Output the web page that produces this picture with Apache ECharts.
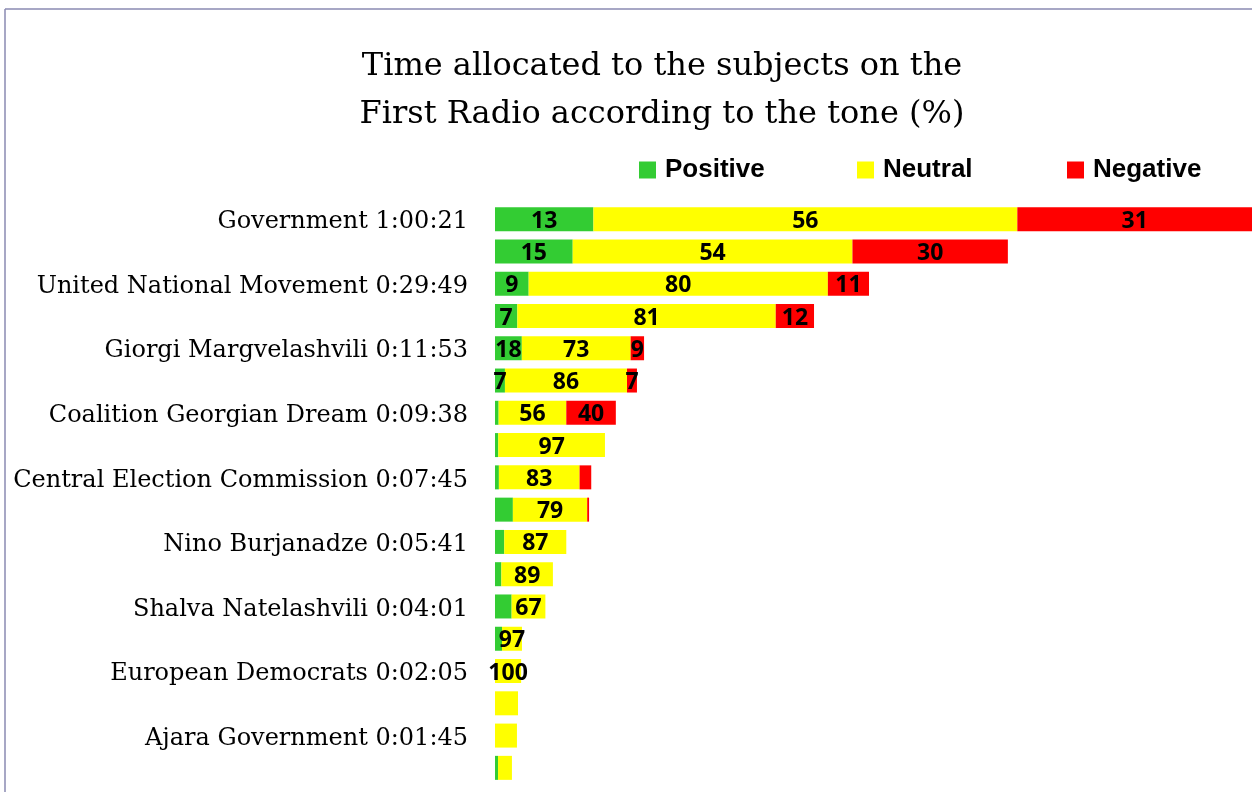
<!DOCTYPE html>
<html>
<head>
<meta charset="utf-8">
<script src="https://cdn.jsdelivr.net/npm/echarts@6/dist/echarts.min.js"></script>
<style>
html,body{margin:0;padding:0;background:#fff;}
#chart{width:1252px;height:792px;}
</style>
</head>
<body>
<div id="chart"></div>
<script>
// Row labels (every subject has a second, unlabelled row below it)
const rowLabels = [
  'Government 1:00:21', '',
  'United National Movement 0:29:49', '',
  'Giorgi Margvelashvili 0:11:53', '',
  'Coalition Georgian Dream 0:09:38', '',
  'Central Election Commission 0:07:45', '',
  'Nino Burjanadze 0:05:41', '',
  'Shalva Natelashvili 0:04:01', '',
  'European Democrats 0:02:05', '',
  'Ajara Government 0:01:45', ''
];
// Total time per row, seconds
const rowSeconds = [3621, 2478, 1789, 1526, 713, 679, 578, 526, 465, 450, 341, 277, 241, 129, 125, 110, 105, 81];
// Tone shares per row, %
const positivePct = [13, 15, 9, 7, 18, 7, 3, 3, 4, 19, 13, 11, 33, 26, 0, 0, 0, 18];
const neutralPct  = [56, 54, 80, 81, 73, 86, 56, 97, 83, 79, 87, 89, 67, 74, 100, 100, 100, 82];
const negativePct = [31, 30, 11, 12, 9, 7, 41, 0, 12, 2, 0, 0, 0, 0, 0, 0, 0, 0];
// Data labels as printed on the chart
const positiveLabels = ['13', '15', '9', '7', '18', '7', '', '', '', '', '', '', '', '', '', '', '', ''];
const neutralLabels  = ['56', '54', '80', '81', '73', '86', '56', '97', '83', '79', '87', '89', '67', '97', '100', '', '', ''];
const negativeLabels = ['31', '30', '11', '12', '9', '7', '40', '', '', '', '', '', '', '', '', '', '', ''];
const titleLines = ['Time allocated to the subjects on the', 'First Radio according to the tone (%)'];
const toneNames = ['Positive', 'Neutral', 'Negative'];

const colors = ['#33cc33', '#ffff00', '#ff0000'];
const pcts = [positivePct, neutralPct, negativePct];
const labels = [positiveLabels, neutralLabels, negativeLabels];

const chart = echarts.init(document.getElementById('chart'), null, {renderer: 'canvas'});

const series = toneNames.map((name, s) => ({
  name: name,
  type: 'bar',
  stack: 'total',
  barWidth: 24,
  itemStyle: {color: colors[s]},
  label: {
    show: true,
    position: 'inside',
    offset: [0, 2],
    color: '#000',
    fontFamily: 'Open Sans',
    fontWeight: 'bold',
    fontSize: 23,
    formatter: p => labels[s][p.dataIndex]
  },
  emphasis: {disabled: true},
  data: rowSeconds.map((t, i) => t * pcts[s][i] / 100)
}));

const legendLefts = [634, 852, 1062];
const legends = toneNames.map((name, s) => ({
  data: [name],
  left: legendLefts[s],
  top: 152,
  itemWidth: 17,
  itemHeight: 17,
  itemGap: 0,
  icon: 'rect',
  selectedMode: false,
  textStyle: {fontFamily: 'Liberation Sans', fontWeight: 'bold', fontSize: 26, color: '#000', padding: [0, 0, 0, 4]}
}));

chart.setOption({
  animation: false,
  backgroundColor: '#fff',
  title: {
    text: titleLines.join('\n'),
    left: 657,
    textAlign: 'center',
    top: 38,
    textStyle: {fontFamily: 'DejaVu Serif', fontWeight: 'normal', fontSize: 32, lineHeight: 48, color: '#000'}
  },
  legend: legends,
  grid: {left: 495, right: 0, top: 203, bottom: 8, containLabel: false},
  xAxis: {
    type: 'value', min: 0, max: rowSeconds[0], show: false
  },
  yAxis: {
    type: 'category',
    inverse: true,
    data: rowLabels,
    axisLine: {show: false},
    axisTick: {show: false},
    splitLine: {show: false},
    axisLabel: {interval: 0, margin: 27, fontFamily: 'DejaVu Serif', fontSize: 24, color: '#000', verticalAlign: 'top', lineHeight: 6}
  },
  graphic: [
    {type: 'line', shape: {x1: 5, y1: 9, x2: 1252, y2: 9}, style: {stroke: '#8a8ab2', lineWidth: 1.5}, silent: true},
    {type: 'line', shape: {x1: 5, y1: 9, x2: 5, y2: 792}, style: {stroke: '#8a8ab2', lineWidth: 1.5}, silent: true}
  ],
  series: series
});
</script>
</body>
</html>
